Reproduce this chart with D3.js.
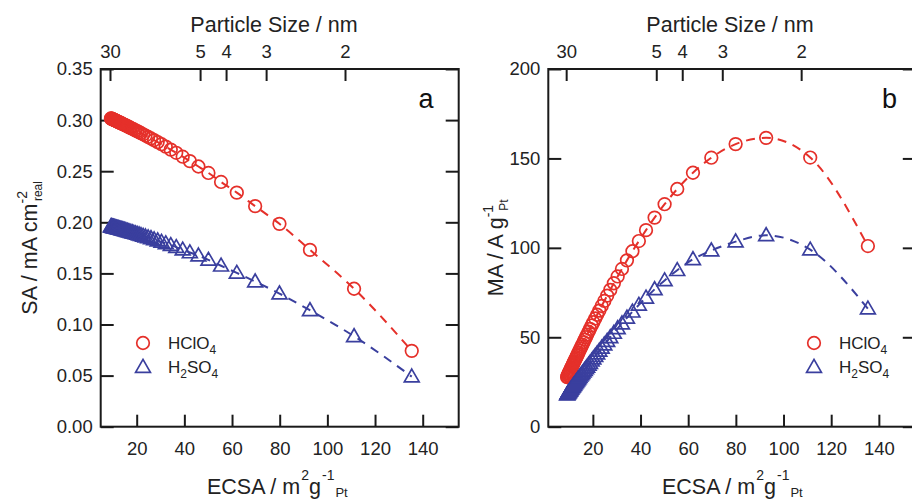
<!DOCTYPE html>
<html lang="en">
<head>
<meta charset="UTF-8">
<title>SA and MA vs ECSA</title>
<script src="https://d3js.org/d3.v7.min.js"></script>
<style>
  body { margin: 0; background: #fff; }
  svg { display: block; font-family: "Liberation Sans", Arial, sans-serif; }
</style>
</head>
<body>
<svg id="chart" width="912" height="499"></svg>
<script>
// ECSA (m2/g Pt) of every point, shared by both panels
const ecsa = [9.2, 9.3, 9.5, 9.6, 9.8, 9.9, 10.1, 10.3, 10.4, 10.6, 10.8, 11.0, 11.3, 11.5, 11.7,
  12.0, 12.2, 12.5, 12.8, 13.1, 13.4, 13.7, 14.0, 14.4, 14.8, 15.2, 15.6, 16.1, 16.6, 17.1, 17.6,
  18.2, 18.8, 19.5, 20.2, 21.0, 21.8, 22.7, 23.7, 24.8, 26.0, 27.3, 28.8, 30.4, 32.2, 34.3, 36.6,
  39.3, 42.3, 45.9, 50.1, 55.4, 62.0, 69.7, 79.9, 92.7, 111.2, 135.4];

// specific activity, mA/cm2 real
const saHClO4 = [0.3016, 0.3015, 0.3013, 0.3012, 0.3009, 0.3008, 0.3006, 0.3004, 0.3003, 0.3001,
  0.2999, 0.2997, 0.2993, 0.2991, 0.2989, 0.2986, 0.2983, 0.2980, 0.2977, 0.2973, 0.2970, 0.2967,
  0.2963, 0.2959, 0.2954, 0.2950, 0.2945, 0.2940, 0.2934, 0.2928, 0.2922, 0.2915, 0.2908, 0.2900,
  0.2892, 0.2882, 0.2872, 0.2861, 0.2849, 0.2835, 0.2820, 0.2804, 0.2785, 0.2764, 0.2740, 0.2711,
  0.2680, 0.2642, 0.2599, 0.2546, 0.2483, 0.2395, 0.2290, 0.2158, 0.1985, 0.1730, 0.1350, 0.0742];
const saH2SO4 = [0.1960, 0.1959, 0.1958, 0.1957, 0.1956, 0.1955, 0.1954, 0.1953, 0.1952, 0.1951,
  0.1950, 0.1948, 0.1947, 0.1945, 0.1944, 0.1942, 0.1941, 0.1939, 0.1937, 0.1935, 0.1933, 0.1931,
  0.1929, 0.1926, 0.1924, 0.1921, 0.1918, 0.1914, 0.1911, 0.1908, 0.1904, 0.1900, 0.1896, 0.1891,
  0.1886, 0.1880, 0.1874, 0.1867, 0.1860, 0.1852, 0.1843, 0.1832, 0.1821, 0.1808, 0.1793, 0.1776,
  0.1757, 0.1732, 0.1705, 0.1674, 0.1632, 0.1575, 0.1505, 0.1420, 0.1303, 0.1139, 0.0885, 0.0490];

// mass activity, A/g Pt
const maHClO4 = [27.7, 28.0, 28.6, 28.9, 29.5, 29.8, 30.4, 30.9, 31.2, 31.8, 32.4, 33.0, 33.8, 34.4,
  35.0, 35.8, 36.4, 37.3, 38.1, 38.9, 39.8, 40.6, 41.5, 42.6, 43.7, 44.8, 45.9, 47.3, 48.7, 50.1,
  51.4, 53.1, 54.7, 56.6, 58.4, 60.5, 62.6, 64.9, 67.5, 70.3, 73.3, 76.5, 80.2, 84.0, 88.2, 93.0,
  98.1, 103.8, 109.9, 116.9, 124.4, 132.9, 142.0, 150.4, 158.0, 161.5, 150.5, 101.0];
const maH2SO4 = [18.0, 18.2, 18.6, 18.8, 19.2, 19.4, 19.7, 20.1, 20.3, 20.7, 21.1, 21.4, 22.0, 22.4,
  22.7, 23.3, 23.7, 24.2, 24.8, 25.3, 25.9, 26.5, 27.0, 27.7, 28.5, 29.2, 29.9, 30.8, 31.7, 32.6,
  33.5, 34.6, 35.6, 36.9, 38.1, 39.5, 40.9, 42.4, 44.1, 45.9, 47.9, 50.0, 52.4, 55.0, 57.7, 60.9,
  64.3, 68.1, 72.1, 76.8, 81.8, 87.5, 93.6, 98.5, 103.5, 107.0, 99.0, 66.0];

const ecsaTicks = [20, 40, 60, 80, 100, 120, 140];
const saTicks = [0, 0.05, 0.10, 0.15, 0.20, 0.25, 0.30, 0.35];
const maTicks = [0, 50, 100, 150, 200];
// top axis: particle size labels and the ECSA where each sits
const sizeLabels = ["30", "5", "4", "3", "2"];
const sizeAtEcsa = [8.8, 46.6, 57.5, 74.3, 107.4];

const red = "#e5302a", blue = "#3a3f9e", ink = "#1a1a1a";

const svg = d3.select("#chart");

function panel(o) {
  const x = d3.scaleLinear().domain(o.xDomain).range([o.left, o.right]);
  const y = d3.scaleLinear().domain(o.yDomain).range([o.bottom, o.top]);
  const g = svg.append("g");

  // bottom axis, ticks inward
  g.append("g").attr("transform", `translate(0,${o.bottom})`)
    .call(d3.axisBottom(x).tickValues(ecsaTicks).tickSizeInner(-12).tickSizeOuter(0).tickPadding(15))
    .call(a => a.select(".domain").remove());
  // left axis
  g.append("g").attr("transform", `translate(${o.left},0)`)
    .call(d3.axisLeft(y).tickValues(o.yTicks).tickFormat(o.yFormat).tickSizeInner(-13).tickSizeOuter(0).tickPadding(8))
    .call(a => a.select(".domain").remove());
  // right axis, no labels
  g.append("g").attr("transform", `translate(${o.right},0)`)
    .call(d3.axisRight(y).tickValues(o.yTicks).tickFormat("").tickSizeInner(-13).tickSizeOuter(0))
    .call(a => a.select(".domain").remove());
  // top axis: particle size
  g.append("g").attr("transform", `translate(0,${o.top})`)
    .call(d3.axisTop(x).tickValues(sizeAtEcsa).tickFormat((d, i) => sizeLabels[i]).tickSizeInner(-12).tickSizeOuter(0).tickPadding(11.5))
    .call(a => a.select(".domain").remove());

  g.selectAll(".tick line").attr("stroke", ink).attr("stroke-width", 2);
  g.selectAll(".tick text").attr("fill", "#222").style("font-size", "18.5px").style("font-family", "Liberation Sans, Arial, sans-serif");

  g.append("rect").attr("x", o.left).attr("y", o.top)
    .attr("width", o.right - o.left).attr("height", o.bottom - o.top)
    .attr("fill", "none").attr("stroke", ink).attr("stroke-width", 2);

  const line = d3.line().x(d => x(d[0])).y(d => y(d[1])).curve(d3.curveMonotoneX);
  const series = [
    {vals: o.series[0], color: red, shape: "circle"},
    {vals: o.series[1], color: blue, shape: "tri"}
  ];
  const tri = d3.symbol().type(d3.symbolTriangle).size(95);
  series.forEach(s => {
    const pts = ecsa.map((e, i) => [e, s.vals[i]]);
    g.append("path").attr("d", line(pts)).attr("fill", "none")
      .attr("stroke", s.color).attr("stroke-width", 2).attr("stroke-dasharray", "9,7");
    const m = g.append("g");
    if (s.shape === "circle") {
      m.selectAll("circle").data(pts).join("circle")
        .attr("cx", d => x(d[0])).attr("cy", d => y(d[1])).attr("r", 6.3)
        .attr("fill", "none").attr("stroke", s.color).attr("stroke-width", 1.7);
    } else {
      m.selectAll("path").data(pts).join("path")
        .attr("d", tri).attr("transform", d => `translate(${x(d[0])},${y(d[1]) + 1})`)
        .attr("fill", "none").attr("stroke", s.color).attr("stroke-width", 1.7);
    }
  });

  // top title
  g.append("text").attr("x", o.titleX).attr("y", 32).attr("text-anchor", "middle")
    .attr("fill", "#222").style("font-size", "21.5px").text("Particle Size / nm");

  // bottom title with super/sub scripts
  const xt = g.append("text").attr("x", o.xTitleStart).attr("y", 494)
    .attr("fill", "#222").style("font-size", "21.5px");
  xt.append("tspan").text("ECSA / m");
  xt.append("tspan").attr("dx", 1).attr("dy", -14).style("font-size", "14px").text("2");
  xt.append("tspan").attr("dx", 0).attr("dy", 14).text("g");
  xt.append("tspan").attr("dx", 1).attr("dy", -14).style("font-size", "14px").text("-1");
  xt.append("tspan").attr("dx", 1).attr("dy", 17).style("font-size", "13px").text("Pt");

  // y title
  const yt = g.append("text").attr("transform", `translate(${o.yTitleX},${(o.top + o.bottom) / 2}) rotate(-90)`)
    .attr("text-anchor", "middle").attr("fill", "#222").style("font-size", "21.5px");
  o.yTitle(yt);

  // panel letter
  g.append("text").attr("x", o.letterX).attr("y", 108).attr("text-anchor", "middle")
    .attr("fill", "#111").style("font-size", "27px").text(o.letter);

  // legend
  const lg = g.append("g").attr("transform", `translate(${o.legX},343)`);
  lg.append("circle").attr("r", 6.3).attr("fill", "none").attr("stroke", red).attr("stroke-width", 1.7);
  lg.append("path").attr("d", tri).attr("transform", "translate(0,25)")
    .attr("fill", "none").attr("stroke", blue).attr("stroke-width", 1.7);
  const l1 = lg.append("text").attr("x", 25).attr("y", 6).attr("fill", "#222").style("font-size", "17px");
  l1.append("tspan").text("HClO");
  l1.append("tspan").attr("dy", 5).style("font-size", "12px").text("4");
  const l2 = lg.append("text").attr("x", 25).attr("y", 30).attr("fill", "#222").style("font-size", "17px");
  l2.append("tspan").text("H");
  l2.append("tspan").attr("dy", 5).style("font-size", "12px").text("2");
  l2.append("tspan").attr("dy", -5).text("SO");
  l2.append("tspan").attr("dy", 5).style("font-size", "12px").text("4");
}

panel({
  left: 100.7, right: 458.7, top: 69, bottom: 426.7,
  xDomain: [4.9, 155.1], yDomain: [0, 0.35],
  yTicks: saTicks, yFormat: d3.format(".2f"),
  series: [saHClO4, saH2SO4],
  titleX: 274, xTitleStart: 207, yTitleX: 37, letter: "a", letterX: 426, legX: 143,
  yTitle: t => {
    t.append("tspan").text("SA / mA cm");
    t.append("tspan").attr("dy", -10).style("font-size", "14px").text("-2");
    t.append("tspan").attr("dx", -10).attr("dy", 15).style("font-size", "12px").text("real");
  }
});

panel({
  left: 548.3, right: 915.8, top: 69, bottom: 426.7,
  xDomain: [1.3, 155.5], yDomain: [0, 200],
  yTicks: maTicks, yFormat: d3.format("d"),
  series: [maHClO4, maH2SO4],
  titleX: 730, xTitleStart: 662, yTitleX: 503, letter: "b", letterX: 889.5, legX: 814,
  yTitle: t => {
    t.append("tspan").text("MA / A g");
    t.append("tspan").attr("dy", -10).style("font-size", "14px").text("-1");
    t.append("tspan").attr("dx", -6).attr("dy", 15).style("font-size", "12px").text("Pt");
  }
});
</script>
</body>
</html>
